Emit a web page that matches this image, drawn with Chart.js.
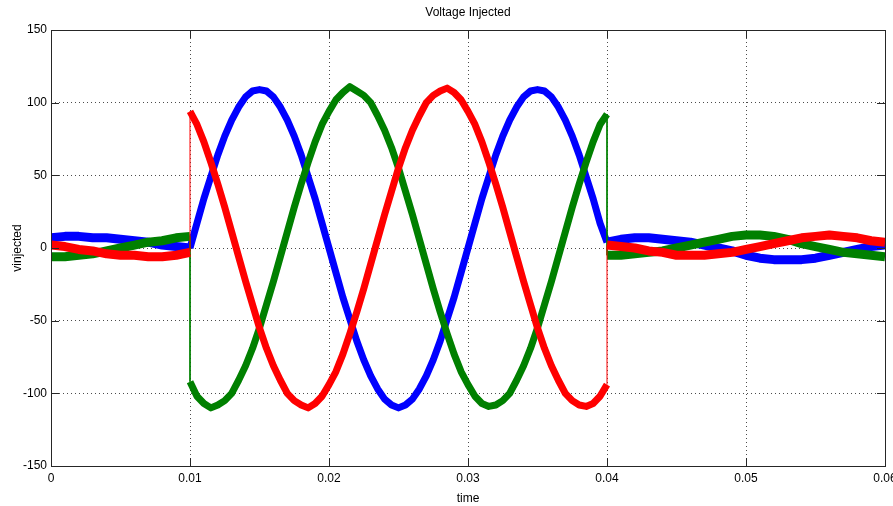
<!DOCTYPE html>
<html>
<head>
<meta charset="utf-8">
<title>Voltage Injected</title>
<script src="https://cdn.jsdelivr.net/npm/chart.js@4.4.0/dist/chart.umd.min.js"></script>
<style>
  html, body { margin: 0; padding: 0; background: #fff; }
  canvas { display: block; }
</style>
</head>
<body>
<canvas id="chart" width="893" height="506"></canvas>
<script>
// time samples (s): before sag, during compensation, after
const timePre = [0, 0.001, 0.002, 0.003, 0.004, 0.005, 0.006, 0.007, 0.008, 0.009, 0.01];
const timeMain = [
  0.01, 0.0105, 0.011, 0.0115, 0.012, 0.0125, 0.013, 0.0135, 0.014, 0.0145,
  0.015, 0.0155, 0.016, 0.0165, 0.017, 0.0175, 0.018, 0.0185, 0.019, 0.0195,
  0.02, 0.0205, 0.021, 0.0215, 0.022, 0.0225, 0.023, 0.0235, 0.024, 0.0245,
  0.025, 0.0255, 0.026, 0.0265, 0.027, 0.0275, 0.028, 0.0285, 0.029, 0.0295,
  0.03, 0.0305, 0.031, 0.0315, 0.032, 0.0325, 0.033, 0.0335, 0.034, 0.0345,
  0.035, 0.0355, 0.036, 0.0365, 0.037, 0.0375, 0.038, 0.0385, 0.039, 0.0395, 0.04
];
const timePost = [
  0.04, 0.041, 0.042, 0.043, 0.044, 0.045, 0.046, 0.047, 0.048, 0.049, 0.05,
  0.051, 0.052, 0.053, 0.054, 0.055, 0.056, 0.057, 0.058, 0.059, 0.06
];

// phase a (blue)
const bluePre = [7, 8, 8, 7, 7, 6, 5, 4, 2, 1, 0];
const blueMain = [
  0, 17, 34, 49, 64, 77, 88, 97, 104, 108, 109, 108, 104, 97, 88, 77, 64, 49, 34, 17,
  0, -17, -34, -49, -64, -77, -88, -97, -104, -108, -110, -108, -104, -97, -88, -77, -64, -49, -34, -17,
  0, 17, 34, 49, 64, 77, 88, 97, 104, 108, 109, 108, 104, 97, 88, 77, 64, 49, 34, 17, 4
];
const bluePost = [4, 6, 7, 7, 6, 5, 4, 2, 0, -2, -5, -7, -8, -8, -8, -7, -5, -3, -1, 1, 2];

// phase b (red)
const redPre = [2, 1, -1, -2, -4, -5, -5, -6, -6, -5, -3];
const redMain = [
  94, 85, 73, 59, 44, 28, 11, -6, -23, -39, -55, -69, -81, -91, -100, -105, -108, -110, -107, -102,
  -94, -85, -73, -59, -44, -28, -11, 6, 23, 39, 55, 69, 81, 91, 100, 105, 108, 110, 107, 102,
  94, 85, 73, 59, 44, 28, 11, -6, -23, -39, -55, -69, -81, -91, -100, -105, -108, -109, -107, -102, -94
];
const redPost = [2, 1, 0, -2, -3, -5, -5, -5, -4, -3, -1, 1, 3, 5, 7, 8, 9, 8, 7, 5, 4];

// phase c (green)
const greenPre = [-6, -6, -5, -4, -2, 0, 2, 4, 5, 7, 8];
const greenMain = [
  -92, -102, -107, -110, -108, -105, -100, -91, -81, -69, -55, -39, -23, -6, 11, 28, 44, 59, 73, 85,
  94, 102, 107, 111, 108, 105, 100, 91, 81, 69, 55, 39, 23, 6, -11, -28, -44, -59, -73, -85,
  -94, -102, -107, -109, -108, -105, -100, -91, -81, -69, -55, -39, -23, -6, 11, 28, 44, 59, 73, 85, 92
];
const greenPost = [-5, -5, -4, -3, -2, 0, 2, 4, 6, 8, 9, 9, 8, 6, 3, 1, -1, -3, -4, -5, -6];

const xTicks = [0, 0.01, 0.02, 0.03, 0.04, 0.05, 0.06];
const xTickLabels = ['0', '0.01', '0.02', '0.03', '0.04', '0.05', '0.06'];
const yTicks = [-150, -100, -50, 0, 50, 100, 150];

const FONT = "'Liberation Sans Narrow', 'Arial Narrow', 'Liberation Sans', Arial, sans-serif";

function toPoints(pre, main, post) {
  const t = timePre.concat(timeMain, timePost);
  const v = pre.concat(main, post);
  return t.map((x, i) => ({ x: x, y: v[i] }));
}

// noisy trace is shown as a thick band: wider where the signal is small
function bandWidth(ctx) {
  const x0 = ctx.p0.parsed.x, x1 = ctx.p1.parsed.x;
  if (x0 === x1) return 1; // single-sample step at switch-on / switch-off
  if (x1 <= 0.01 || x0 >= 0.04) return 9;
  return 7;
}

function phase(label, color, pre, main, post, order) {
  return {
    label: label,
    data: toPoints(pre, main, post),
    borderColor: color,
    borderWidth: 7,
    borderJoinStyle: 'round',
    pointRadius: 0,
    tension: 0,
    order: order,
    segment: { borderWidth: bandWidth }
  };
}

// box round the axes, with MATLAB-style inward tick marks
const axesBox = {
  id: 'axesBox',
  afterDraw(chart) {
    const { ctx, chartArea: a, scales } = chart;
    const len = 8;
    ctx.save();
    ctx.strokeStyle = '#262626';
    ctx.lineWidth = 1;
    ctx.setLineDash([]);
    ctx.strokeRect(Math.round(a.left) + 0.5, Math.round(a.top) + 0.5,
      Math.round(a.right - a.left), Math.round(a.bottom - a.top));
    ctx.beginPath();
    xTicks.forEach(v => {
      const x = Math.round(scales.x.getPixelForValue(v)) + 0.5;
      ctx.moveTo(x, a.bottom); ctx.lineTo(x, a.bottom - len);
      ctx.moveTo(x, a.top); ctx.lineTo(x, a.top + len);
    });
    yTicks.forEach(v => {
      const y = Math.round(scales.y.getPixelForValue(v)) + 0.5;
      ctx.moveTo(a.left, y); ctx.lineTo(a.left + len, y);
      ctx.moveTo(a.right, y); ctx.lineTo(a.right - len, y);
    });
    ctx.stroke();
    ctx.restore();
  }
};

new Chart(document.getElementById('chart'), {
  type: 'line',
  data: {
    datasets: [
      phase('Va', '#0000ff', bluePre, blueMain, bluePost, 3),
      phase('Vc', '#008000', greenPre, greenMain, greenPost, 2),
      phase('Vb', '#ff0000', redPre, redMain, redPost, 1)
    ]
  },
  options: {
    responsive: false,
    animation: false,
    layout: { padding: { top: 0, right: 8, bottom: 0, left: 0 } },
    plugins: {
      legend: { display: false },
      tooltip: { enabled: false },
      title: {
        display: true,
        text: 'Voltage Injected',
        fullSize: false,
        color: '#000',
        font: { family: FONT, size: 12, weight: 'normal' },
        padding: { top: 5, bottom: 10.6 }
      }
    },
    scales: {
      x: {
        type: 'linear',
        min: 0,
        max: 0.06,
        afterBuildTicks: s => { s.ticks = xTicks.map(v => ({ value: v })); },
        afterFit: s => { s.height = 40; s.paddingLeft = 0; s.paddingRight = 0; },
        ticks: {
          color: '#000',
          padding: 5,
          maxRotation: 0,
          font: { family: FONT, size: 12 },
          callback: (v, i) => xTickLabels[i]
        },
        grid: { color: 'rgba(0,0,0,0.7)', lineWidth: 1, drawTicks: false },
        border: { display: false, dash: [1, 3] },
        title: {
          display: true,
          text: 'time',
          color: '#000',
          font: { family: FONT, size: 12 },
          padding: { top: 0, bottom: 0 }
        }
      },
      y: {
        min: -150,
        max: 150,
        afterBuildTicks: s => { s.ticks = yTicks.map(v => ({ value: v })); },
        afterFit: s => { s.width = 51; s.paddingTop = 0; s.paddingBottom = 0; },
        ticks: {
          color: '#000',
          padding: 4,
          font: { family: FONT, size: 12 }
        },
        grid: { color: 'rgba(0,0,0,0.7)', lineWidth: 1, drawTicks: false },
        border: { display: false, dash: [1, 3] },
        title: {
          display: true,
          text: 'vinjected',
          color: '#000',
          font: { family: FONT, size: 12 },
          padding: { top: 10, bottom: 0 }
        }
      }
    }
  },
  plugins: [axesBox]
});
</script>
</body>
</html>
